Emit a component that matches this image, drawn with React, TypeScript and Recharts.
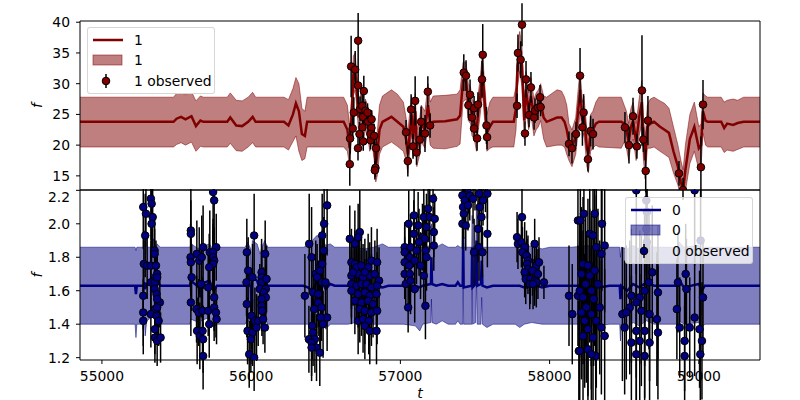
import { ComposedChart, Line, Area, Scatter, ErrorBar, XAxis, YAxis } from 'recharts';

const FONT = '"DejaVu Sans", sans-serif';
const T_DOMAIN = [54853, 59410];
const T_TICKS = [55000, 56000, 57000, 58000, 59000];
const TOP_DOMAIN = [12.7, 40.2];
const TOP_TICKS = [15, 20, 25, 30, 35, 40];
const BOT_DOMAIN = [1.186, 2.202];
const BOT_TICKS = [1.2, 1.4, 1.6, 1.8, 2.0, 2.2];

// channel "1" fit: [t, mean, lower, upper]
const fit1 = [
  [54853, 23.8, 19.7, 27.8], [55480, 23.8, 19.7, 27.8], [55500, 24.3, 20.1, 28.4], [55530, 24.6, 20.4, 28.6],
  [55560, 24.2, 20.0, 28.2], [55600, 24.7, 20.5, 28.7], [55630, 23.1, 19.0, 27.2], [55660, 24.0, 19.8, 28.0],
  [55680, 23.8, 19.7, 27.8], [55840, 23.8, 19.7, 27.8], [55860, 24.5, 20.3, 28.5], [55900, 23.2, 19.1, 27.3],
  [55940, 23.1, 19.0, 27.2], [55980, 23.8, 19.7, 27.8], [56010, 24.6, 20.4, 28.6], [56030, 23.8, 19.7, 27.8],
  [56220, 23.8, 19.7, 27.8], [56250, 23.2, 19.2, 27.4], [56280, 25.0, 20.6, 29.2], [56300, 26.8, 21.5, 31.0],
  [56320, 25.5, 19.0, 30.0], [56340, 21.8, 17.5, 26.0], [56360, 21.5, 17.8, 25.5], [56375, 23.8, 19.7, 27.8],
  [56620, 23.8, 19.7, 27.8], [56645, 22.5, 19.0, 26.5], [56660, 19.5, 16.5, 23.0], [56672, 24.0, 21.0, 27.5],
  [56685, 31.5, 28.0, 34.5], [56697, 32.0, 29.0, 35.0], [56710, 28.5, 25.5, 31.0], [56720, 24.5, 22.0, 27.0],
  [56730, 25.5, 23.0, 28.0], [56745, 27.0, 24.5, 29.5], [56755, 23.5, 21.0, 26.0], [56765, 25.0, 22.5, 27.5],
  [56780, 24.0, 21.5, 26.5], [56795, 21.5, 19.0, 24.0], [56810, 23.0, 20.5, 25.5], [56825, 20.0, 17.5, 22.5],
  [56835, 16.5, 14.0, 19.0], [56845, 18.5, 15.0, 22.0], [56860, 22.5, 18.5, 26.5], [56880, 23.8, 19.7, 28.0],
  [56940, 24.6, 20.5, 29.0], [56980, 23.8, 19.8, 28.3], [57020, 23.0, 19.0, 27.0], [57038, 21.0, 17.5, 24.5],
  [57050, 18.5, 15.5, 22.0], [57065, 22.5, 19.5, 26.0], [57075, 25.0, 22.0, 28.0], [57085, 21.0, 18.0, 24.0],
  [57100, 25.5, 22.5, 28.5], [57110, 19.5, 16.5, 22.5], [57130, 21.5, 18.5, 24.5], [57140, 23.5, 20.5, 26.5],
  [57165, 22.5, 19.5, 25.5], [57185, 26.5, 23.0, 30.0], [57200, 23.5, 20.0, 27.0], [57220, 23.8, 19.5, 28.0],
  [57300, 23.9, 19.4, 28.1], [57380, 24.2, 19.8, 28.3], [57400, 24.8, 20.2, 29.0], [57420, 30.5, 27.0, 33.5],
  [57440, 30.5, 27.5, 33.5], [57455, 27.0, 24.0, 30.0], [57470, 26.5, 23.5, 29.5], [57480, 24.5, 21.5, 27.5],
  [57495, 24.0, 21.0, 27.0], [57510, 22.0, 19.0, 25.0], [57520, 25.0, 22.0, 28.0], [57535, 28.0, 25.0, 31.0],
  [57550, 32.0, 28.5, 35.0], [57565, 27.0, 24.0, 30.0], [57580, 22.0, 19.0, 25.0], [57600, 23.0, 19.5, 27.0],
  [57620, 23.8, 19.7, 27.8], [57760, 23.8, 19.7, 27.8], [57775, 26.0, 22.5, 29.5], [57785, 33.0, 29.5, 36.0],
  [57800, 35.5, 32.0, 38.5], [57815, 33.0, 29.5, 36.0], [57830, 24.0, 21.0, 27.0], [57842, 29.0, 26.0, 32.0],
  [57860, 25.5, 22.5, 28.5], [57875, 28.0, 25.0, 31.0], [57895, 24.5, 21.5, 27.5], [57910, 25.5, 22.5, 28.5],
  [57925, 26.0, 23.0, 29.0], [57940, 27.0, 24.0, 30.0], [57960, 24.5, 21.0, 28.0], [57980, 23.8, 19.7, 27.8],
  [58050, 24.5, 20.0, 29.0], [58080, 24.5, 20.0, 28.8], [58100, 23.8, 19.7, 27.8], [58115, 22.5, 18.5, 26.5],
  [58130, 20.5, 17.5, 23.5], [58150, 19.5, 16.5, 22.5], [58175, 21.5, 18.5, 24.5], [58195, 26.5, 23.0, 30.0],
  [58205, 29.0, 25.5, 32.0], [58220, 24.0, 21.0, 27.0], [58230, 25.0, 22.0, 28.0], [58250, 19.5, 16.5, 22.5],
  [58260, 18.5, 15.5, 21.5], [58275, 22.0, 19.0, 25.0], [58290, 22.5, 19.5, 25.5], [58310, 23.5, 20.0, 27.0],
  [58330, 23.8, 19.7, 27.8], [58480, 23.8, 19.5, 27.8], [58500, 23.5, 20.5, 26.5], [58515, 22.5, 19.5, 25.5],
  [58530, 20.5, 17.5, 23.5], [58545, 23.0, 20.0, 26.0], [58560, 24.0, 21.0, 27.0], [58580, 20.5, 17.5, 23.5],
  [58600, 24.5, 21.5, 27.5], [58618, 27.0, 23.5, 30.5], [58628, 21.5, 18.0, 25.0], [58640, 17.5, 14.5, 21.0],
  [58655, 23.0, 19.5, 26.5], [58675, 23.5, 19.5, 27.5], [58700, 23.8, 19.7, 27.8], [58740, 23.0, 19.0, 27.2],
  [58770, 22.5, 18.5, 26.8], [58800, 22.0, 18.0, 26.0], [58830, 19.0, 15.5, 23.0], [58860, 16.5, 13.5, 20.0],
  [58880, 14.0, 11.0, 17.5], [58895, 12.5, 9.5, 16.0], [58910, 16.0, 12.5, 20.0], [58940, 21.0, 17.0, 25.0],
  [58970, 23.0, 19.0, 27.0], [59000, 19.5, 16.0, 23.0], [59015, 20.0, 16.5, 23.5], [59028, 25.5, 22.0, 28.5],
  [59045, 24.0, 20.0, 28.0], [59060, 23.8, 19.7, 27.8], [59150, 23.8, 19.7, 27.8], [59170, 22.8, 18.8, 27.0],
  [59190, 23.5, 19.2, 27.3], [59230, 23.3, 19.0, 27.5], [59260, 23.6, 19.3, 27.3], [59300, 23.8, 19.7, 27.8],
  [59410, 23.8, 19.7, 27.8],
];

// channel "1" observations: [t, value, error]
const obs1 = [
  [56661, 16.9, 3.5], [56663, 21.1, 2.5], [56670, 32.8, 5.0], [56681, 22.7, 2], [56688, 25.3, 2.5],
  [56697, 32.3, 3], [56717, 37.0, 4.5], [56717, 29.7, 3], [56716, 19.5, 2], [56726, 21.8, 2],
  [56730, 25.9, 2], [56744, 26.4, 2], [56755, 28.8, 2.5], [56750, 24.6, 2], [56746, 22.9, 2],
  [56751, 20.6, 1.5], [56766, 25.6, 1.5], [56780, 25.3, 1.5], [56784, 23.8, 1.5], [56800, 20.8, 1.5],
  [56806, 22.8, 1.5], [56807, 24.2, 1.5], [56799, 21.8, 1.5], [56824, 21.5, 2], [56837, 19.5, 2.5],
  [56833, 16.3, 1.5], [56829, 15.9, 1.5],
  [57038, 22.1, 2], [57050, 17.4, 2.5], [57072, 25.8, 2.5], [57085, 19.8, 2], [57099, 27.2, 4],
  [57108, 18.8, 2], [57130, 20.9, 2], [57139, 23.8, 2.5], [57165, 21.9, 3], [57184, 28.7, 2.5],
  [57199, 23.2, 2],
  [57425, 31.8, 3], [57440, 31.3, 2.5], [57456, 26.5, 2], [57467, 28.2, 2.5], [57480, 24.5, 2],
  [57494, 26.0, 2], [57494, 22.7, 2], [57514, 21.1, 2], [57520, 26.6, 2], [57547, 30.7, 3],
  [57552, 34.7, 5], [57577, 23.2, 3], [57581, 21.3, 2],
  [57782, 26.4, 2], [57788, 35.0, 3], [57806, 33.9, 3], [57815, 39.6, 3.5], [57835, 21.9, 2],
  [57842, 30.7, 3], [57862, 24.9, 2], [57875, 29.4, 2.5], [57896, 24.5, 2], [57902, 25.6, 2],
  [57922, 26.1, 2], [57936, 27.8, 2], [57940, 26.2, 1.5],
  [58130, 20.2, 2], [58150, 19.5, 2.5], [58177, 21.8, 2], [58204, 31.3, 4.5], [58220, 22.9, 3],
  [58228, 25.3, 3], [58257, 17.7, 2], [58275, 22.3, 2.5], [58291, 21.8, 2.5],
  [58505, 22.9, 2.5], [58532, 20.0, 3], [58559, 24.7, 3], [58585, 19.8, 2], [58619, 28.9, 9],
  [58628, 20.9, 2], [58644, 15.8, 3.5], [58659, 24.0, 4],
  [58867, 15.4, 2], [58894, 12.7, 2], [59014, 16.4, 5], [59028, 26.6, 4],
];

// channel "0" fit: [t, mean, lower, upper]
const fit0 = [
  [54853, 1.63, 1.40, 1.86], [55222, 1.63, 1.40, 1.86], [55228, 1.58, 1.32, 1.84], [55234, 1.63, 1.40, 1.86],
  [55280, 1.63, 1.40, 1.86], [55285, 1.65, 1.42, 1.90], [55290, 1.61, 1.33, 1.80], [55300, 1.64, 1.42, 1.86],
  [55330, 1.65, 1.44, 1.86], [55345, 1.70, 1.48, 1.91], [55355, 1.62, 1.42, 1.85], [55370, 1.66, 1.42, 1.88],
  [55390, 1.63, 1.40, 1.86], [55590, 1.63, 1.40, 1.86], [55596, 1.66, 1.43, 1.88], [55650, 1.62, 1.41, 1.85],
  [55656, 1.56, 1.36, 1.80], [55662, 1.64, 1.42, 1.86], [55720, 1.66, 1.44, 1.88], [55750, 1.60, 1.38, 1.84],
  [55770, 1.63, 1.40, 1.86], [55960, 1.63, 1.40, 1.86], [55975, 1.66, 1.43, 1.89], [55998, 1.62, 1.40, 1.85],
  [56003, 1.35, 1.15, 1.60], [56008, 1.68, 1.45, 1.90], [56040, 1.66, 1.44, 1.88], [56060, 1.60, 1.38, 1.82],
  [56090, 1.67, 1.45, 1.90], [56110, 1.63, 1.40, 1.86], [56350, 1.63, 1.40, 1.86], [56380, 1.62, 1.40, 1.87],
  [56410, 1.60, 1.38, 1.90], [56440, 1.65, 1.42, 1.93], [56470, 1.66, 1.43, 1.92], [56500, 1.61, 1.37, 1.87],
  [56530, 1.64, 1.40, 1.88], [56560, 1.63, 1.40, 1.86], [56650, 1.63, 1.40, 1.86], [56700, 1.64, 1.41, 1.86],
  [56760, 1.62, 1.39, 1.85], [56820, 1.63, 1.40, 1.86], [56880, 1.62, 1.40, 1.88], [56920, 1.63, 1.40, 1.86],
  [57020, 1.63, 1.40, 1.86], [57100, 1.63, 1.39, 1.86], [57130, 1.62, 1.36, 1.86], [57150, 1.63, 1.40, 1.86],
  [57205, 1.64, 1.41, 1.87], [57208, 1.80, 1.55, 2.00], [57212, 1.64, 1.41, 1.87], [57240, 1.63, 1.40, 1.86],
  [57280, 1.64, 1.42, 1.88], [57320, 1.63, 1.40, 1.86], [57370, 1.63, 1.40, 1.86], [57385, 1.65, 1.42, 1.87],
  [57400, 1.63, 1.40, 1.86], [57418, 1.63, 1.40, 1.86], [57421, 1.92, 1.70, 2.10], [57424, 1.62, 1.40, 1.86],
  [57478, 1.63, 1.40, 1.86], [57481, 1.86, 1.65, 2.05], [57484, 1.62, 1.40, 1.86], [57505, 1.64, 1.41, 1.87],
  [57510, 1.90, 1.68, 2.10], [57515, 1.63, 1.40, 1.86], [57540, 1.64, 1.40, 1.87], [57545, 1.78, 1.56, 2.00],
  [57550, 1.63, 1.40, 1.86], [57580, 1.62, 1.38, 1.86], [57620, 1.63, 1.40, 1.86], [57770, 1.63, 1.40, 1.86],
  [57800, 1.63, 1.38, 1.86], [57830, 1.62, 1.40, 1.86], [57880, 1.64, 1.41, 1.87], [57950, 1.62, 1.40, 1.85],
  [58000, 1.63, 1.40, 1.86], [58150, 1.63, 1.40, 1.86], [58250, 1.63, 1.40, 1.87], [58330, 1.62, 1.39, 1.86],
  [58400, 1.63, 1.40, 1.86], [58470, 1.63, 1.40, 1.86], [58475, 1.55, 1.30, 1.80], [58480, 1.63, 1.40, 1.86],
  [58520, 1.60, 1.38, 1.85], [58560, 1.64, 1.41, 1.87], [58600, 1.62, 1.39, 1.85], [58650, 1.65, 1.42, 1.88],
  [58700, 1.63, 1.40, 1.86], [58860, 1.63, 1.40, 1.86], [58870, 1.66, 1.42, 1.89], [58900, 1.62, 1.40, 1.86],
  [59000, 1.64, 1.41, 1.87], [59020, 1.60, 1.38, 1.84], [59040, 1.63, 1.40, 1.86], [59410, 1.63, 1.40, 1.86],
];

// channel "0" observations: [t, value, error]
const obs0 = [
  [55277, 2.10, 0.25], [55295, 2.06, 0.2], [55290, 1.93, 0.25], [55328, 2.15, 0.25], [55333, 2.12, 0.2],
  [55340, 2.04, 0.2], [55333, 2.00, 0.25], [55353, 1.84, 0.2], [55353, 1.82, 0.15], [55281, 1.76, 0.2],
  [55303, 1.75, 0.2], [55328, 1.75, 0.15], [55362, 1.75, 0.15], [55370, 1.70, 0.15], [55328, 1.65, 0.2],
  [55355, 1.65, 0.15], [55370, 1.68, 0.15], [55277, 1.57, 0.2], [55353, 1.61, 0.15], [55366, 1.58, 0.15],
  [55388, 1.53, 0.15], [55370, 1.55, 0.15], [55355, 1.49, 0.15], [55328, 1.46, 0.2], [55370, 1.50, 0.15],
  [55277, 1.47, 0.2], [55277, 1.42, 0.2], [55366, 1.45, 0.15], [55380, 1.42, 0.15], [55355, 1.37, 0.15],
  [55355, 1.32, 0.15], [55370, 1.30, 0.15], [55393, 1.32, 0.15],
  [55596, 1.96, 0.25], [55596, 1.94, 0.2], [55745, 2.19, 0.3], [55752, 2.14, 0.3], [55678, 1.86, 0.25],
  [55636, 1.82, 0.2], [55652, 1.78, 0.2], [55669, 1.80, 0.25], [55766, 1.86, 0.2], [55723, 1.83, 0.25],
  [55745, 1.83, 0.2], [55745, 1.80, 0.2], [55752, 1.78, 0.2], [55745, 1.76, 0.2], [55594, 1.80, 0.2],
  [55596, 1.77, 0.2], [55719, 1.74, 0.2], [55601, 1.68, 0.2], [55665, 1.64, 0.2], [55712, 1.62, 0.2],
  [55752, 1.56, 0.2], [55596, 1.53, 0.2], [55634, 1.49, 0.2], [55648, 1.47, 0.2], [55674, 1.48, 0.2],
  [55712, 1.48, 0.15], [55752, 1.50, 0.2], [55764, 1.47, 0.15], [55768, 1.43, 0.15], [55719, 1.40, 0.2],
  [55638, 1.36, 0.2], [55656, 1.33, 0.2], [55678, 1.31, 0.2], [55678, 1.21, 0.2], [55674, 1.36, 0.15],
  [55971, 1.83, 0.2], [56020, 1.93, 0.25], [56094, 1.82, 0.2], [55980, 1.72, 0.2], [56009, 1.68, 0.2],
  [55969, 1.65, 0.2], [56070, 1.71, 0.2], [56070, 1.68, 0.2], [56070, 1.65, 0.2], [56103, 1.67, 0.2],
  [56058, 1.61, 0.15], [56098, 1.61, 0.15], [56085, 1.59, 0.15], [56098, 1.56, 0.15], [55971, 1.52, 0.2],
  [56070, 1.55, 0.15], [56070, 1.51, 0.15], [56072, 1.48, 0.15], [56003, 1.45, 0.2], [56025, 1.42, 0.2],
  [56047, 1.42, 0.15], [56080, 1.43, 0.15], [55976, 1.36, 0.2], [56009, 1.35, 0.2], [56036, 1.38, 0.2],
  [56092, 1.38, 0.15], [55998, 1.31, 0.2], [55987, 1.22, 0.2], [56020, 1.20, 0.2],
  [56509, 2.11, 0.3], [56489, 2.00, 0.25], [56476, 1.93, 0.25], [56487, 1.84, 0.2], [56389, 1.88, 0.3],
  [56405, 1.80, 0.3], [56433, 1.70, 0.2], [56465, 1.75, 0.2], [56476, 1.76, 0.2], [56460, 1.72, 0.2],
  [56442, 1.68, 0.2], [56476, 1.65, 0.2], [56498, 1.65, 0.2], [56415, 1.59, 0.2], [56449, 1.58, 0.2],
  [56360, 1.57, 0.25], [56449, 1.53, 0.2], [56472, 1.50, 0.2], [56422, 1.49, 0.2], [56509, 1.44, 0.2],
  [56465, 1.44, 0.2], [56482, 1.40, 0.2], [56409, 1.39, 0.2], [56415, 1.35, 0.2], [56387, 1.31, 0.2],
  [56427, 1.31, 0.2], [56405, 1.29, 0.2], [56438, 1.26, 0.2], [56460, 1.23, 0.2], [56405, 1.26, 0.2],
  [56661, 1.91, 0.2], [56728, 1.95, 0.25], [56695, 1.88, 0.2], [56717, 1.92, 0.2], [56672, 1.77, 0.2],
  [56695, 1.76, 0.2], [56706, 1.74, 0.2], [56739, 1.75, 0.2], [56784, 1.74, 0.2], [56806, 1.78, 0.2],
  [56844, 1.77, 0.2], [56672, 1.69, 0.2], [56717, 1.70, 0.2], [56750, 1.68, 0.2], [56795, 1.69, 0.2],
  [56829, 1.70, 0.2], [56857, 1.66, 0.2], [56672, 1.64, 0.2], [56706, 1.63, 0.2], [56739, 1.64, 0.2],
  [56773, 1.64, 0.2], [56806, 1.62, 0.2], [56844, 1.63, 0.2], [56672, 1.60, 0.2], [56717, 1.58, 0.2],
  [56762, 1.59, 0.2], [56795, 1.57, 0.2], [56840, 1.58, 0.2], [56695, 1.54, 0.2], [56739, 1.53, 0.2],
  [56784, 1.54, 0.2], [56817, 1.52, 0.2], [56728, 1.49, 0.2], [56762, 1.48, 0.2], [56806, 1.47, 0.2],
  [56844, 1.48, 0.2], [56717, 1.42, 0.2], [56750, 1.43, 0.2], [56788, 1.42, 0.2], [56762, 1.39, 0.2],
  [56795, 1.36, 0.2], [56840, 1.36, 0.2], [56683, 1.71, 0.2], [56762, 1.71, 0.2],
  [57219, 2.15, 0.2], [57186, 2.09, 0.2], [57092, 2.05, 0.2], [57157, 2.04, 0.2], [57197, 2.04, 0.2],
  [57230, 2.03, 0.15], [57056, 2.00, 0.2], [57119, 1.99, 0.2], [57175, 1.98, 0.2], [57224, 1.95, 0.15],
  [57090, 1.94, 0.2], [57148, 1.92, 0.2], [57163, 1.91, 0.2], [57125, 1.89, 0.2], [57224, 1.87, 0.15],
  [57029, 1.86, 0.15], [57068, 1.86, 0.2], [57108, 1.84, 0.2], [57170, 1.84, 0.2], [57029, 1.83, 0.15],
  [57063, 1.80, 0.2], [57096, 1.78, 0.2], [57175, 1.80, 0.2], [57029, 1.77, 0.15], [57058, 1.75, 0.2],
  [57135, 1.75, 0.2], [57029, 1.70, 0.15], [57063, 1.70, 0.2], [57157, 1.69, 0.2], [57036, 1.64, 0.15],
  [57068, 1.66, 0.2], [57096, 1.61, 0.2], [57052, 1.50, 0.15], [57168, 1.51, 0.2],
  [57416, 2.17, 0.15], [57431, 2.14, 0.15], [57465, 2.17, 0.15], [57487, 2.15, 0.15], [57527, 2.18, 0.15],
  [57554, 2.14, 0.15], [57583, 2.18, 0.15], [57420, 2.10, 0.15], [57453, 2.11, 0.15], [57532, 2.10, 0.15],
  [57425, 2.06, 0.15], [57543, 2.04, 0.2], [57416, 2.00, 0.15], [57438, 1.99, 0.15], [57520, 1.97, 0.2],
  [57583, 1.94, 0.2], [57527, 1.86, 0.2], [57494, 1.83, 0.2], [57550, 1.83, 0.15], [57440, 2.24, 0.15],
  [57470, 2.25, 0.15], [57500, 2.23, 0.15], [57540, 2.26, 0.15], [57570, 2.22, 0.15], [57455, 2.21, 0.15],
  [57815, 2.04, 0.2], [57782, 1.92, 0.15], [57788, 1.88, 0.15], [57811, 1.89, 0.15], [57833, 1.86, 0.15],
  [57900, 1.88, 0.15], [57818, 1.83, 0.15], [57845, 1.81, 0.15], [57855, 1.78, 0.15], [57911, 1.75, 0.15],
  [57849, 1.76, 0.15], [57855, 1.73, 0.15], [57929, 1.77, 0.15], [57833, 1.71, 0.15], [57885, 1.72, 0.15],
  [57922, 1.70, 0.15], [57840, 1.67, 0.15], [57871, 1.67, 0.15], [57900, 1.66, 0.15], [57867, 1.64, 0.15],
  [57911, 1.65, 0.15], [57962, 1.65, 0.1], [57889, 1.64, 0.15],
  [58130, 1.57, 0.3], [58152, 1.46, 0.3], [58190, 2.02, 0.3], [58196, 1.24, 0.3], [58190, 1.57, 0.3],
  [58206, 2.02, 0.4], [58230, 2.06, 0.4], [58302, 2.06, 0.45], [58351, 2.00, 0.4], [58269, 1.94, 0.4],
  [58291, 1.93, 0.45], [58313, 1.86, 0.4], [58369, 1.87, 0.4], [58347, 1.82, 0.45], [58224, 1.76, 0.4],
  [58257, 1.75, 0.4], [58302, 1.72, 0.45], [58213, 1.70, 0.4], [58269, 1.69, 0.4], [58242, 1.64, 0.4],
  [58324, 1.64, 0.45], [58202, 1.60, 0.4], [58280, 1.60, 0.45], [58224, 1.56, 0.4], [58295, 1.55, 0.4],
  [58246, 1.50, 0.45], [58336, 1.50, 0.4], [58213, 1.47, 0.4], [58280, 1.46, 0.45], [58235, 1.42, 0.4],
  [58313, 1.42, 0.4], [58257, 1.37, 0.4], [58347, 1.38, 0.4], [58224, 1.33, 0.4], [58291, 1.32, 0.45],
  [58369, 1.33, 0.4], [58202, 1.24, 0.4], [58257, 1.25, 0.4], [58309, 1.21, 0.4], [58280, 1.22, 0.4],
  [58581, 2.20, 0.5], [58648, 2.14, 0.45], [58652, 2.07, 0.45], [58648, 1.97, 0.5], [58652, 1.89, 0.45],
  [58688, 1.71, 0.4], [58666, 1.65, 0.4], [58726, 1.59, 0.4], [58637, 1.60, 0.45], [58604, 1.56, 0.4],
  [58548, 1.57, 0.4], [58537, 1.50, 0.4], [58581, 1.53, 0.45], [58615, 1.48, 0.45], [58488, 1.46, 0.4],
  [58514, 1.47, 0.4], [58670, 1.46, 0.4], [58719, 1.43, 0.4], [58503, 1.38, 0.4], [58581, 1.36, 0.45],
  [58637, 1.36, 0.4], [58726, 1.35, 0.4], [58548, 1.29, 0.4], [58604, 1.30, 0.4], [58670, 1.29, 0.45],
  [58581, 1.22, 0.4], [58637, 1.21, 0.4],
  [58972, 2.20, 0.45], [59012, 1.90, 0.45], [58912, 1.70, 0.3], [58860, 1.65, 0.3], [58917, 1.61, 0.3],
  [59028, 1.56, 0.35], [58853, 1.49, 0.3], [58972, 1.44, 0.35], [58872, 1.38, 0.3], [58939, 1.38, 0.3],
  [59005, 1.37, 0.35], [58905, 1.30, 0.3], [59021, 1.30, 0.35], [58905, 1.21, 0.3], [59010, 1.22, 0.3],
];

const tickStyle = { fill: '#000', fontSize: 13.9, fontFamily: FONT };
const axisLabel = { fill: '#000', fontSize: 14, fontStyle: 'italic', fontFamily: FONT };

function Panel({ fit, obs, color, yDomain, yTicks, fmt, bottom }) {
  const curve = fit.map(([t, mean, lo, hi]) => ({ t, mean, band: [lo, hi] }));
  const points = obs.map(([t, v, e]) => ({ t, v, e }));
  return (
    <ComposedChart
      width={800}
      height={bottom ? 211 : 200}
      data={curve}
      margin={{ top: bottom ? 0 : 20, right: 39, bottom: 0, left: 0 }}
    >
      <XAxis xAxisId="frame" orientation="top" type="number" domain={[0, 1]} tick={false} tickLine={false} height={1} stroke="#000" />
      <YAxis yAxisId="frame" orientation="right" type="number" domain={[0, 1]} tick={false} tickLine={false} width={1} stroke="#000" />
      <XAxis
        dataKey="t"
        type="number"
        domain={T_DOMAIN}
        allowDataOverflow
        ticks={T_TICKS}
        tick={bottom ? tickStyle : false}
        tickSize={4}
        tickMargin={7}
        height={bottom ? 40 : 10}
        stroke="#000"
        label={bottom ? { value: 't', position: 'insideBottom', offset: 2, ...axisLabel } : undefined}
      />
      <YAxis
        type="number"
        domain={yDomain}
        allowDataOverflow
        ticks={yTicks}
        tick={tickStyle}
        tickFormatter={fmt}
        tickSize={4}
        tickMargin={6}
        width={80}
        stroke="#000"
        label={{ value: 'f', angle: -90, position: 'center', dx: -3, ...axisLabel }}
      />
      <Area dataKey="band" type="linear" fill={color} fillOpacity={0.5} stroke={color} strokeOpacity={0.5} strokeWidth={1} isAnimationActive={false} />
      <Line dataKey="mean" type="linear" stroke={color} strokeWidth={2.5} dot={false} isAnimationActive={false} />
      <Scatter
        data={points}
        dataKey="v"
        fill={color}
        isAnimationActive={false}
        shape={(p) => <circle cx={p.cx} cy={p.cy} r={3.8} fill={color} stroke="#000" strokeWidth={1} />}
      >
        <ErrorBar dataKey="e" direction="y" width={0} stroke="#000" strokeWidth={1.5} isAnimationActive={false} />
      </Scatter>
    </ComposedChart>
  );
}

function LegendBox({ left, top, color, label, alpha }) {
  const row = (y) => ({ position: 'absolute', left: 46, top: y - 9, lineHeight: '18px' });
  return (
    <div
      style={{
        position: 'absolute',
        left,
        top,
        width: 128,
        height: 67,
        boxSizing: 'border-box',
        border: '1px solid rgba(204,204,204,0.8)',
        borderRadius: 3,
        background: `rgba(255,255,255,${alpha})`,
        fontSize: 13.9,
        color: '#000',
      }}
    >
      <svg width={40} height={67} style={{ position: 'absolute', left: 0, top: 0 }}>
        <line x1={5} x2={35} y1={12} y2={12} stroke={color} strokeWidth={2.5} />
        <rect x={5} y={27} width={29} height={10} fill={color} fillOpacity={0.5} stroke={color} strokeOpacity={0.5} />
        <line x1={18} x2={18} y1={46} y2={60} stroke="#000" strokeWidth={1.5} />
        <circle cx={18} cy={53} r={3.8} fill={color} stroke="#000" />
      </svg>
      <span style={row(12)}>{label}</span>
      <span style={row(32)}>{label}</span>
      <span style={row(53)}>{label} observed</span>
    </div>
  );
}

export default function App() {
  return (
    <div style={{ position: 'absolute', left: 0, top: 0, width: 800, height: 400, background: '#fff', fontFamily: FONT }}>
      <div style={{ position: 'absolute', left: 0, top: 0 }}>
        <Panel fit={fit1} obs={obs1} color="#800000" yDomain={TOP_DOMAIN} yTicks={TOP_TICKS} fmt={(v) => String(v)} bottom={false} />
      </div>
      <div style={{ position: 'absolute', left: 0, top: 189 }}>
        <Panel fit={fit0} obs={obs0} color="#000080" yDomain={BOT_DOMAIN} yTicks={BOT_TICKS} fmt={(v) => v.toFixed(1)} bottom />
      </div>
      <LegendBox left={87} top={27} color="#800000" label="1" alpha={1} />
      <LegendBox left={625} top={197} color="#000080" label="0" alpha={0.8} />
    </div>
  );
}
